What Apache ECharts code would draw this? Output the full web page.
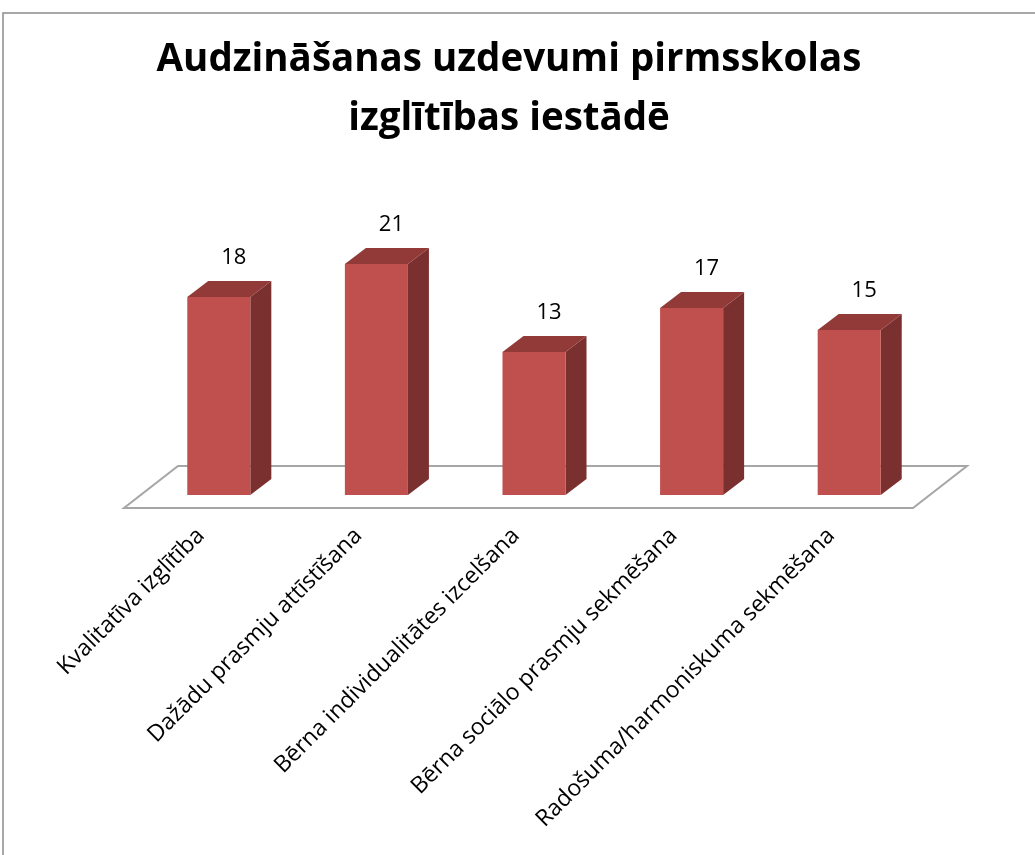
<!DOCTYPE html>
<html>
<head>
<meta charset="utf-8">
<script src="https://cdn.jsdelivr.net/npm/echarts@6/dist/echarts.min.js"></script>
<style>
html, body { margin: 0; padding: 0; background: #fff; }
#chart { width: 1035px; height: 855px; }
</style>
</head>
<body>
<div id="chart"></div>
<script>
// dati no attēla
const categories = [
  'Kvalitatīva izglītība',
  'Dažādu prasmju attīstīšana',
  'Bērna individualitātes izcelšana',
  'Bērna sociālo prasmju sekmēšana',
  'Radošuma/harmoniskuma sekmēšana'
]
const values = [18, 21, 13, 17, 15]

const chart = echarts.init(document.getElementById('chart'))

// 3D dziļuma nobīde
const depthX = 21
const depthY = -16

function renderFloor(params, api) {
  const cs = params.coordSys
  const zeroY = cs.y + cs.height
  const fl = cs.x - 16
  const fr = cs.x + cs.width - 15
  const fy = zeroY + 13
  const sx = 54
  const sy = -42
  return {
    type: 'polygon',
    shape: { points: [[fl, fy], [fr, fy], [fr + sx, fy + sy], [fl + sx, fy + sy]] },
    style: { fill: '#fff', stroke: '#a6a6a6', lineWidth: 2 }
  }
}

function renderBar(params, api) {
  const top = api.coord([api.value(0), api.value(1)])
  const bottom = api.coord([api.value(0), 0])
  const w = api.size([1, 0])[0] * 0.4
  const x0 = top[0] - w / 2
  const x1 = top[0] + w / 2
  const yt = top[1]
  const yb = bottom[1]
  return {
    type: 'group',
    children: [
      {
        type: 'polygon',
        shape: { points: [[x1, yt], [x1 + depthX, yt + depthY], [x1 + depthX, yb + depthY], [x1, yb]] },
        style: { fill: '#7b3030' }
      },
      {
        type: 'polygon',
        shape: { points: [[x0, yt], [x0 + depthX, yt + depthY], [x1 + depthX, yt + depthY], [x1, yt]] },
        style: { fill: '#923a38' }
      },
      {
        type: 'rect',
        shape: { x: x0, y: yt, width: w, height: yb - yt },
        style: { fill: '#c0504d' }
      },
      {
        type: 'text',
        x: top[0] + 15,
        y: yt + depthY - 23,
        style: {
          text: String(api.value(1)),
          fill: '#000',
          font: '22px "Open Sans"',
          textAlign: 'center',
          textVerticalAlign: 'middle'
        }
      }
    ]
  }
}

const option = {
  backgroundColor: '#fff',
  animation: false,
  title: {
    text: 'Audzināšanas uzdevumi pirmsskolas\nizglītības iestādē',
    left: 504,
    top: 26,
    textAlign: 'center',
    textStyle: {
      fontFamily: 'Open Sans',
      fontWeight: 'bold',
      fontSize: 38.5,
      lineHeight: 59,
      color: '#000'
    }
  },
  graphic: [
    {
      type: 'rect',
      shape: { x: 3, y: 13, width: 1100, height: 900 },
      style: { fill: 'none', stroke: '#8c8c8c', lineWidth: 1.5 },
      silent: true
    }
  ],
  grid: [
    { left: 140, right: 107, top: 220, bottom: 360 },
    // tikai kategoriju nosaukumiem, nedaudz pa kreisi
    { left: 122, right: 125, top: 220, bottom: 360 }
  ],
  xAxis: [
    {
      type: 'category',
      data: categories,
      gridIndex: 0,
      axisLine: { show: false },
      axisTick: { show: false },
      axisLabel: { show: false }
    },
    {
      type: 'category',
      data: categories,
      gridIndex: 1,
      axisLine: { show: false },
      axisTick: { show: false },
      axisLabel: {
        rotate: 45,
        margin: 37,
        interval: 0,
        fontFamily: 'Open Sans',
        fontSize: 23,
        color: '#000'
      }
    }
  ],
  yAxis: [
    { type: 'value', min: 0, max: 25, show: false, gridIndex: 0 },
    { type: 'value', min: 0, max: 25, show: false, gridIndex: 1 }
  ],
  series: [
    {
      type: 'custom',
      renderItem: renderFloor,
      data: [[0, 0]],
      silent: true,
      z: 1
    },
    {
      type: 'custom',
      renderItem: renderBar,
      data: values.map((v, i) => [i, v]),
      z: 2
    }
  ]
}

chart.setOption(option)
</script>
</body>
</html>
